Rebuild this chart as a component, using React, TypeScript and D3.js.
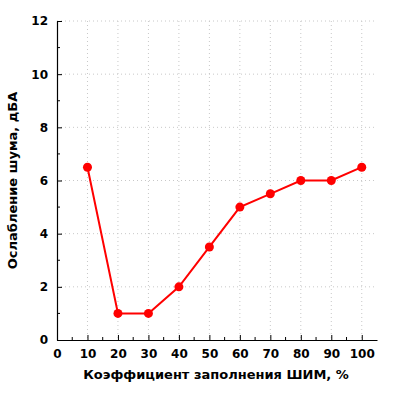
import { useEffect, useRef } from "react"
import * as d3 from "d3"

const fillPercent = [10, 20, 30, 40, 50, 60, 70, 80, 90, 100]
const noiseReduction = [6.5, 1, 1, 2, 3.5, 5, 5.5, 6, 6, 6.5]
const xTicks = [0, 10, 20, 30, 40, 50, 60, 70, 80, 90, 100]
const yTicks = [0, 2, 4, 6, 8, 10, 12]
const xLabel = "Коэффициент заполнения ШИМ, %"
const yLabel = "Ослабление шума, дБА"

export default function App() {
  const svgRef = useRef<SVGSVGElement>(null)

  useEffect(() => {
    if (!svgRef.current) return
    const width = 400
    const height = 400
    const margin = { top: 21, right: 23, bottom: 60, left: 57 }
    const innerWidth = width - margin.left - margin.right
    const innerHeight = height - margin.top - margin.bottom
    const font = "'DejaVu Sans', Verdana, sans-serif"

    const svg = d3.select(svgRef.current).attr("width", width).attr("height", height)
    svg.selectAll("*").remove()
    svg.append("rect").attr("width", width).attr("height", height).attr("fill", "#fff")

    const g = svg.append("g").attr("transform", `translate(${margin.left},${margin.top})`)

    const x = d3.scaleLinear().domain([0, 105]).range([0, innerWidth])
    const y = d3.scaleLinear().domain([0, 12]).range([innerHeight, 0])

    // grid
    g.append("g")
      .selectAll("line")
      .data(xTicks.filter((d) => d > 0))
      .enter()
      .append("line")
      .attr("x1", (d) => x(d))
      .attr("x2", (d) => x(d))
      .attr("y1", 0)
      .attr("y2", innerHeight)
      .attr("stroke", "#c8c8c8")
      .attr("stroke-dasharray", "1,3")
    g.append("g")
      .selectAll("line")
      .data(yTicks.filter((d) => d > 0))
      .enter()
      .append("line")
      .attr("x1", 0)
      .attr("x2", innerWidth)
      .attr("y1", (d) => y(d))
      .attr("y2", (d) => y(d))
      .attr("stroke", "#c8c8c8")
      .attr("stroke-dasharray", "1,3")

    // minor ticks
    const xMinor = d3.range(5, 105, 10)
    const yMinor = d3.range(1, 12, 2)

    const xAxis = g.append("g").attr("transform", `translate(0,${innerHeight})`)
    xAxis.call(d3.axisBottom(x).tickValues(xTicks).tickSizeInner(-5).tickSizeOuter(0).tickPadding(9))
    xAxis.append("g")
      .selectAll("line")
      .data(xMinor)
      .enter()
      .append("line")
      .attr("x1", (d) => x(d))
      .attr("x2", (d) => x(d))
      .attr("y1", 0)
      .attr("y2", -3)
      .attr("stroke", "#000")

    const yAxis = g.append("g")
    yAxis.call(d3.axisLeft(y).tickValues(yTicks).tickSizeInner(-5).tickSizeOuter(0).tickPadding(9))
    yAxis.append("g")
      .selectAll("line")
      .data(yMinor)
      .enter()
      .append("line")
      .attr("x1", 0)
      .attr("x2", 3)
      .attr("y1", (d) => y(d))
      .attr("y2", (d) => y(d))
      .attr("stroke", "#000")

    for (const ax of [xAxis, yAxis]) {
      ax.select(".domain").attr("stroke", "#000").attr("stroke-width", 1.2)
      ax.selectAll(".tick line").attr("stroke", "#000")
      ax.selectAll(".tick text")
        .attr("fill", "#000")
        .attr("font-family", font)
        .attr("font-weight", "bold")
        .attr("font-size", "12px")
    }

    // line + points
    const pts = fillPercent.map((v, i) => [v, noiseReduction[i]] as [number, number])
    g.append("path")
      .datum(pts)
      .attr("fill", "none")
      .attr("stroke", "#ff0000")
      .attr("stroke-width", 2)
      .attr("d", d3.line<[number, number]>().x((d) => x(d[0])).y((d) => y(d[1])))
    g.selectAll("circle.pt")
      .data(pts)
      .enter()
      .append("circle")
      .attr("class", "pt")
      .attr("cx", (d) => x(d[0]))
      .attr("cy", (d) => y(d[1]))
      .attr("r", 4.5)
      .attr("fill", "#ff0000")

    // axis titles
    svg.append("text")
      .attr("x", 216)
      .attr("y", 379)
      .attr("text-anchor", "middle")
      .attr("font-family", font)
      .attr("font-weight", "bold")
      .attr("font-size", "13px")
      .text(xLabel)
    svg.append("text")
      .attr("transform", `translate(17,${margin.top + innerHeight / 2}) rotate(-90)`)
      .attr("text-anchor", "middle")
      .attr("font-family", font)
      .attr("font-weight", "bold")
      .attr("font-size", "13px")
      .text(yLabel)
  }, [])

  return (
    <svg
      ref={svgRef}
      style={{ position: "absolute", left: 0, top: 0, display: "block" }}
    />
  )
}
